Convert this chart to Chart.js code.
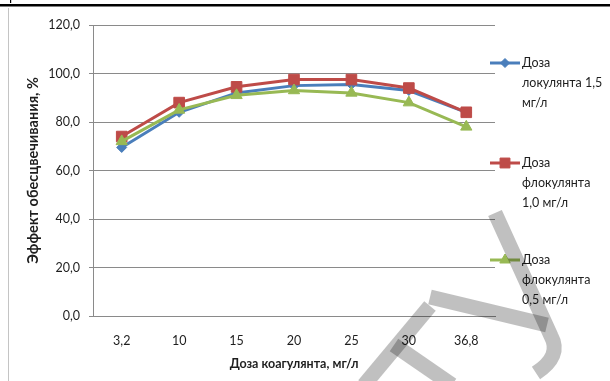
<!DOCTYPE html>
<html>
<head>
<meta charset="utf-8">
<script src="https://cdn.jsdelivr.net/npm/chart.js@4/dist/chart.umd.min.js"></script>
<style>
  html, body { margin: 0; padding: 0; background: #fff; }
  #wrap { width: 610px; height: 381px; position: relative; }
</style>
</head>
<body>
<div id="wrap"><canvas id="c" width="610" height="381"></canvas></div>
<script>
// Доза коагулянта, мг/л
const categories = ['3,2', '10', '15', '20', '25', '30', '36,8'];

// Эффект обесцвечивания, % for three flocculant doses
const flocculant15 = [69.5, 84, 92, 95, 95.5, 93, 84];
const flocculant10 = [74, 88, 94.5, 97.5, 97.5, 94, 84];
const flocculant05 = [72, 85, 91, 93, 92, 88, 78];

// legend captions, one entry per printed line
const legend15 = ['Доза', 'локулянта 1,5', 'мг/л'];
const legend10 = ['Доза', 'флокулянта', '1,0 мг/л'];
const legend05 = ['Доза', 'флокулянта', '0,5 мг/л'];

const yMin = 0, yMax = 120, yStep = 20;

const FONT = 'Lato, "Liberation Sans", sans-serif';
const TEXT = '#1e1e1e';
const GRID = '#8a8a8a';

// frame of the sheet: black top rule and grey left border
const framePlugin = {
  id: 'frame',
  beforeDraw(chart) {
    const ctx = chart.ctx;
    ctx.save();
    ctx.fillStyle = '#fff';
    ctx.fillRect(0, 0, chart.width, chart.height);
    ctx.fillStyle = '#000';
    ctx.fillRect(0, 4, chart.width, 2.5);
    ctx.fillRect(10, 0, 1.2, 3);
    ctx.fillStyle = '#c4c4c4';
    ctx.fillRect(8, 8, 1, chart.height - 8);
    ctx.restore();
  }
};

// small marker shapes for the legend keys
function legendMarker(ctx, style, x, y, r) {
  ctx.beginPath();
  if (style === 'rect') {
    const s = r * Math.SQRT1_2;
    ctx.rect(x - s, y - s, 2 * s, 2 * s);
  } else if (style === 'rectRot') {
    ctx.moveTo(x, y - r);
    ctx.lineTo(x + r, y);
    ctx.lineTo(x, y + r);
    ctx.lineTo(x - r, y);
    ctx.closePath();
  } else if (style === 'triangle') {
    const h = r * 1.5, w = r * Math.sqrt(3) / 2;
    ctx.moveTo(x, y - r);
    ctx.lineTo(x + w, y + h - r);
    ctx.lineTo(x - w, y + h - r);
    ctx.closePath();
  }
  ctx.fill();
  ctx.stroke();
}

// multi-line legend on the right, built from the datasets
const sideLegend = {
  id: 'sideLegend',
  afterDraw(chart) {
    const ctx = chart.ctx;
    const rows = [63, 163, 260];
    ctx.save();
    chart.data.datasets.forEach((ds, i) => {
      const y = rows[i];
      ctx.strokeStyle = ds.borderColor;
      ctx.lineWidth = 3;
      ctx.beginPath();
      ctx.moveTo(490, y);
      ctx.lineTo(520, y);
      ctx.stroke();
      ctx.fillStyle = ds.backgroundColor;
      ctx.lineWidth = 1;
      legendMarker(ctx, ds.pointStyle, 505, y, ds.legendRadius);
      ctx.fillStyle = TEXT;
      ctx.font = '12.5px ' + FONT;
      ctx.textAlign = 'left';
      ctx.textBaseline = 'middle';
      ds.legendLines.forEach((t, k) => ctx.fillText(t, 522, y + k * 20));
    });
    ctx.restore();
  }
};

// grey stamp over the lower right corner
const stampPlugin = {
  id: 'stamp',
  afterDraw(chart) {
    const ctx = chart.ctx;
    ctx.save();
    ctx.globalCompositeOperation = 'multiply';
    ctx.strokeStyle = '#c0c0c0';
    ctx.lineWidth = 15;
    ctx.lineCap = 'butt';
    ctx.lineJoin = 'round';
    ctx.beginPath();
    ctx.moveTo(495, 213);
    ctx.lineTo(551, 336);
    ctx.quadraticCurveTo(562, 356, 536, 373);
    ctx.stroke();
    ctx.beginPath();
    ctx.moveTo(430, 297);
    ctx.lineTo(547, 325);
    ctx.stroke();
    ctx.beginPath();
    ctx.moveTo(430, 306);
    ctx.lineTo(364, 385);
    ctx.stroke();
    ctx.beginPath();
    ctx.moveTo(394, 345);
    ctx.lineTo(452, 385);
    ctx.stroke();
    ctx.restore();
  }
};

const seriesStyle = (data, color, style, radius, legendRadius, lines, order) => ({
  label: lines.join(' '),
  legendLines: lines,
  legendRadius: legendRadius,
  data: data,
  borderColor: color,
  backgroundColor: color,
  borderWidth: 3,
  pointStyle: style,
  pointRadius: radius,
  pointHoverRadius: radius,
  pointBorderWidth: 1,
  tension: 0,
  order: order
});

new Chart(document.getElementById('c'), {
  type: 'line',
  data: {
    labels: categories,
    datasets: [
      seriesStyle(flocculant15, '#4a7ebb', 'rectRot', 5, 4.5, legend15, 3),
      seriesStyle(flocculant10, '#be4b48', 'rect', 7.5, 7, legend10, 2),
      seriesStyle(flocculant05, '#98b954', 'triangle', 6.5, 6, legend05, 1)
    ]
  },
  options: {
    responsive: false,
    animation: false,
    devicePixelRatio: 1,
    layout: { padding: { left: 0, top: 25, right: 115, bottom: 0 } },
    plugins: {
      legend: { display: false },
      tooltip: { enabled: false }
    },
    scales: {
      x: {
        offset: true,
        grid: { display: false, drawTicks: false },
        border: { display: true, color: GRID, width: 1 },
        ticks: { color: TEXT, font: { family: FONT, size: 12.5 }, padding: 17, maxRotation: 0 },
        title: {
          display: true,
          text: 'Доза коагулянта, мг/л',
          color: TEXT,
          font: { family: FONT, size: 12.5, weight: 'bold' },
          padding: { top: 0, bottom: 10 }
        },
        afterFit(scale) { scale.height = 65; }
      },
      y: {
        min: yMin,
        max: yMax,
        grid: { color: GRID, lineWidth: 1, drawTicks: true, tickLength: 4 },
        border: { display: true, color: GRID, width: 1 },
        ticks: {
          stepSize: yStep,
          color: TEXT,
          font: { family: FONT, size: 12.5 },
          padding: 9,
          callback: v => v.toFixed(1).replace('.', ',')
        },
        title: {
          display: true,
          text: 'Эффект обесцвечивания, %',
          color: TEXT,
          font: { family: FONT, size: 14.5, weight: 'bold' },
          padding: { top: 25, bottom: 0 }
        },
        afterFit(scale) { scale.width = 93; }
      }
    }
  },
  plugins: [framePlugin, sideLegend, stampPlugin]
});
</script>
</body>
</html>
